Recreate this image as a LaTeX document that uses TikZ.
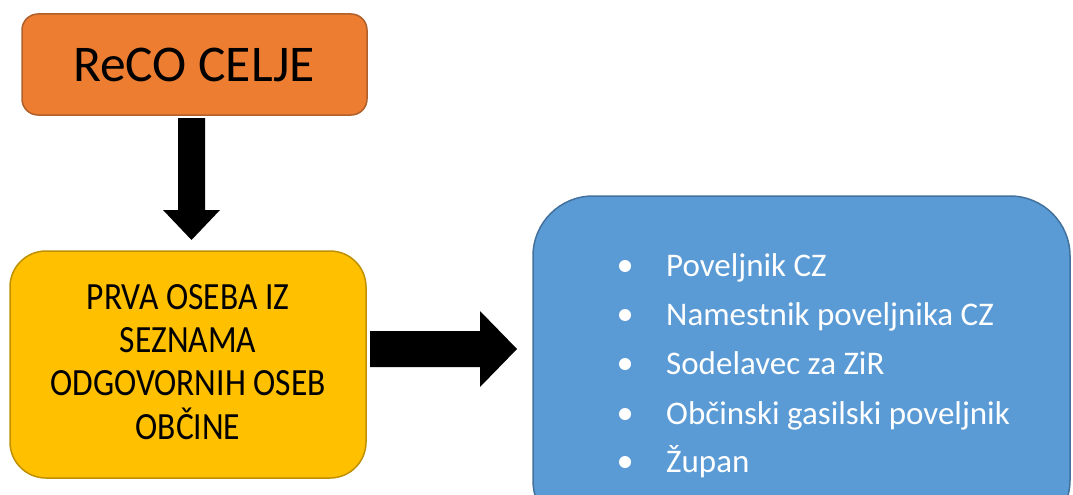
\documentclass[tikz,border=0pt]{standalone}
\usepackage{fontspec}
\setmainfont{Carlito}
\definecolor{orfill}{HTML}{ED7D31}
\definecolor{ordraw}{HTML}{B0602A}
\definecolor{yefill}{HTML}{FFC000}
\definecolor{yedraw}{HTML}{BF9000}
\definecolor{blfill}{HTML}{5B9BD5}
\definecolor{bldraw}{HTML}{41719C}
\tikzset{
  box/.style={rounded corners=#1, line width=1.5pt},
  itemtext/.style={anchor=base west, text=white, font=\fontsize{33}{38}\selectfont, inner sep=0pt},
  bulletdot/.style={circle, fill=white, inner sep=0pt, minimum size=12pt},
  bigarrow/.style={fill=black, draw=none}
}
\begin{document}
\begin{tikzpicture}[x=1pt,y=-1pt]
\useasboundingbox (0,0) rectangle (1073,495);
\clip (0,0) rectangle (1073,495);
% orange box
\draw[box=16pt, fill=orfill, draw=ordraw] (22,14) rectangle (367,115);
\node (reco) at (194,65) {\fontsize{51.5}{60}\selectfont ReCO CELJE};
% yellow box
\draw[box=36pt, fill=yefill, draw=yedraw] (10,251) rectangle (366,478);
\node[align=center, yscale=1.15, font=\fontsize{33.5}{37.5}\selectfont] (prva) at (188,362)
  {PRVA OSEBA IZ\\SEZNAMA\\ODGOVORNIH OSEB\\OBČINE};
% blue box
\draw[box=60pt, fill=blfill, draw=bldraw] (533,196) rectangle (1070,540);
% down arrow
\fill[bigarrow] (178,118) -- (205,118) -- (205,210) -- (220,210) -- (191.5,240) -- (163,210) -- (178,210) -- cycle;
% right arrow
\fill[bigarrow] (370,331) -- (480,331) -- (480,311) -- (517,349) -- (480,387) -- (480,367) -- (370,367) -- cycle;
% list
\foreach \t/\yy/\nm in {Poveljnik CZ/276/i1, Namestnik poveljnika CZ/325/i2, Sodelavec za ZiR/374/i3, Občinski gasilski poveljnik/424/i4, Župan/472/i5}{
  \node[bulletdot] (b\nm) at (625,\yy-10) {};
  \node[itemtext] (\nm) at (666,\yy) {\t};
}
\end{tikzpicture}
\end{document}
